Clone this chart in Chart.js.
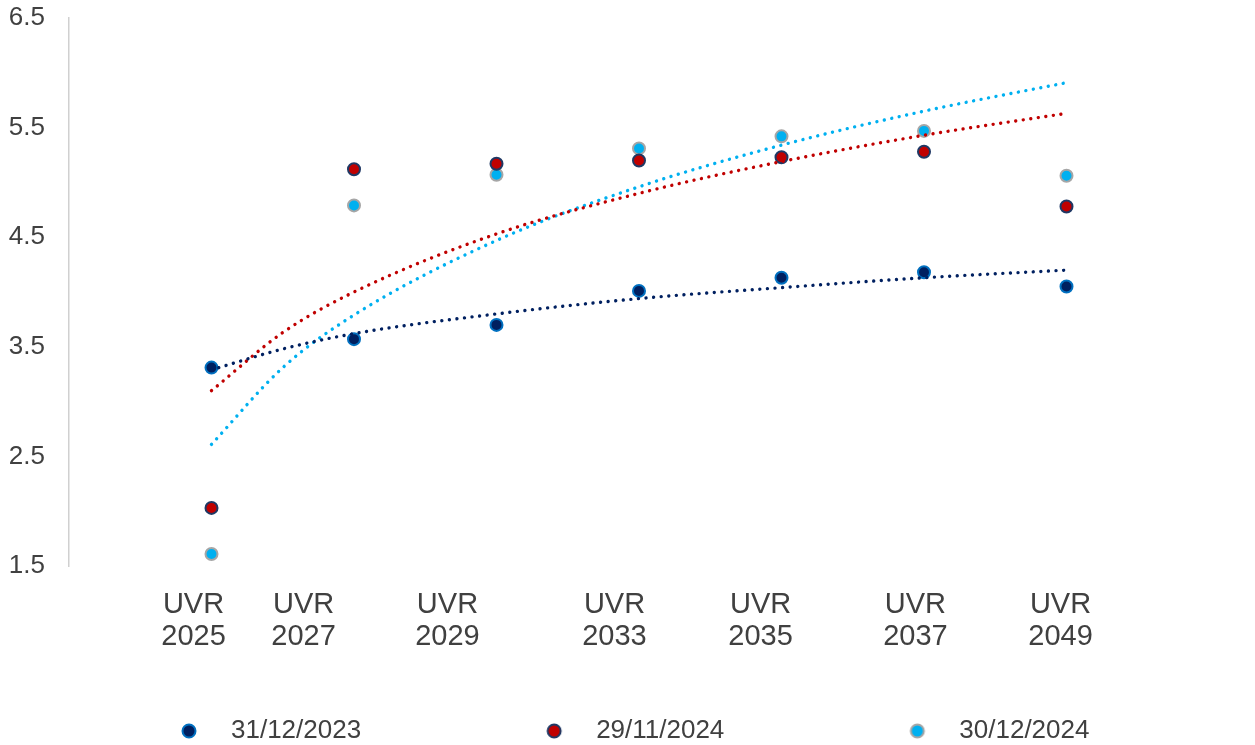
<!DOCTYPE html>
<html>
<head>
<meta charset="utf-8">
<title>UVR curve</title>
<script src="https://cdn.jsdelivr.net/npm/chart.js@4/dist/chart.umd.min.js"></script>
<style>
  html, body { margin: 0; padding: 0; background: #ffffff; }
  #wrap { width: 1255px; height: 745px; }
</style>
</head>
<body>
<div id="wrap"><canvas id="uvr-chart" width="1255" height="745"></canvas></div>
<script>
// Bonds (categories) and where they sit on the x axis
const bonds = ['UVR 2025', 'UVR 2027', 'UVR 2029', 'UVR 2033', 'UVR 2035', 'UVR 2037', 'UVR 2049'];
const bondX = [1, 2, 3, 4, 5, 6, 7];
// the category labels are drawn a bit off the points in the original
const labelX = [0.874, 1.646, 2.656, 3.828, 4.853, 5.94, 6.958];

// Series names
const seriesNames = ['31/12/2023', '29/11/2024', '30/12/2024'];

// Values
const dec2023 = [3.31, 3.57, 3.70, 4.01, 4.13, 4.18, 4.05];
const nov2024 = [2.03, 5.12, 5.17, 5.20, 5.23, 5.28, 4.78];
const dec2024 = [1.61, 4.79, 5.07, 5.31, 5.42, 5.47, 5.06];

// Trend lines (logarithmic in the original)
const trendX = [1, 1.5, 2, 3, 4, 5, 6, 7];
const trendDec2023 = [3.29, 3.48, 3.62, 3.80, 3.94, 4.04, 4.13, 4.20];
const trendNov2024 = [3.10, 3.63, 4.00, 4.53, 4.90, 5.19, 5.43, 5.63];
const trendDec2024 = [2.61, 3.31, 3.79, 4.47, 4.96, 5.34, 5.65, 5.91];

// Y axis range / ticks
const yMin = 1.5;
const yMax = 6.5;
const yStep = 1;

const colors = {
    navy: '#002060',
    blue: '#0070c0',
    red: '#c00000',
    redEdge: '#1f3864',
    sky: '#00b0f0',
    grey: '#a6a6a6',
    text: '#404040',
    axis: '#d0d0d0'
};

const FONT = "'Liberation Sans', Arial, sans-serif";

const toPoints = (xs, ys) => xs.map((x, i) => ({ x: x, y: ys[i] }));

// legend marker: circle drawn off-centre so it sits further from the text
function legendMarker(fill, edge) {
    const c = document.createElement('canvas');
    c.width = 184;
    c.height = 18;
    const g = c.getContext('2d');
    g.beginPath();
    g.arc(172, 9, 6.5, 0, Math.PI * 2);
    g.fillStyle = fill;
    g.fill();
    g.lineWidth = 2;
    g.strokeStyle = edge;
    g.stroke();
    return c;
}

function pointSet(label, values, fill, edge) {
    return {
        label: label,
        data: toPoints(bondX, values),
        backgroundColor: fill,
        borderColor: edge,
        borderWidth: 2,
        pointRadius: 6,
        pointHoverRadius: 7,
        order: 1,
        marker: legendMarker(fill, edge)
    };
}

function trendSet(values, color) {
    return {
        label: 'trend',
        isTrend: true,
        data: toPoints(trendX, values),
        showLine: true,
        borderColor: color,
        backgroundColor: color,
        borderWidth: 3.4,
        borderDash: [0.01, 7.6],
        borderCapStyle: 'round',
        cubicInterpolationMode: 'monotone',
        pointRadius: 0,
        pointHoverRadius: 0,
        fill: false,
        order: 0
    };
}

const ctx = document.getElementById('uvr-chart');

new Chart(ctx, {
    type: 'scatter',
    data: {
        datasets: [
            pointSet(seriesNames[0], dec2023, colors.navy, colors.blue),
            pointSet(seriesNames[1], nov2024, colors.red, colors.redEdge),
            pointSet(seriesNames[2], dec2024, colors.sky, colors.grey),
            trendSet(trendDec2023, colors.navy),
            trendSet(trendNov2024, colors.red),
            trendSet(trendDec2024, colors.sky)
        ]
    },
    options: {
        responsive: false,
        animation: false,
        layout: {
            padding: { top: 18, right: 46, bottom: -9, left: -4 }
        },
        plugins: {
            legend: {
                display: true,
                position: 'bottom',
                align: 'start',
                labels: {
                    usePointStyle: true,
                    pointStyleWidth: 218,
                    boxHeight: 14,
                    padding: 4,
                    color: colors.text,
                    font: { family: FONT, size: 26 },
                    generateLabels: (chart) => {
                        const items = Chart.defaults.plugins.legend.labels.generateLabels(chart);
                        return items
                            .filter(item => !chart.data.datasets[item.datasetIndex].isTrend)
                            .map(item => {
                                item.pointStyle = chart.data.datasets[item.datasetIndex].marker;
                                return item;
                            });
                    }
                }
            },
            tooltip: {
                enabled: true
            }
        },
        scales: {
            x: {
                type: 'linear',
                min: 0,
                max: 8,
                grid: { display: false },
                border: { display: false },
                afterBuildTicks: (scale) => {
                    scale.ticks = labelX.map(v => ({ value: v }));
                },
                afterFit: (scale) => {
                    scale.height = 148;
                },
                ticks: {
                    autoSkip: false,
                    maxRotation: 0,
                    minRotation: 0,
                    padding: 15,
                    color: colors.text,
                    font: { family: FONT, size: 29, lineHeight: 1.1 },
                    callback: (value, index) => bonds[index].split(' ')
                }
            },
            y: {
                min: yMin,
                max: yMax,
                grid: { display: false },
                border: { display: true, color: colors.axis, width: 1.5 },
                afterFit: (scale) => {
                    scale.width = 73;
                    // labels may hang over the top/bottom of the plot
                    scale.paddingTop = 0;
                    scale.paddingBottom = 0;
                },
                ticks: {
                    stepSize: yStep,
                    padding: 16,
                    color: colors.text,
                    font: { family: FONT, size: 26 },
                    callback: (value) => value.toFixed(1)
                }
            }
        }
    }
});
</script>
</body>
</html>
